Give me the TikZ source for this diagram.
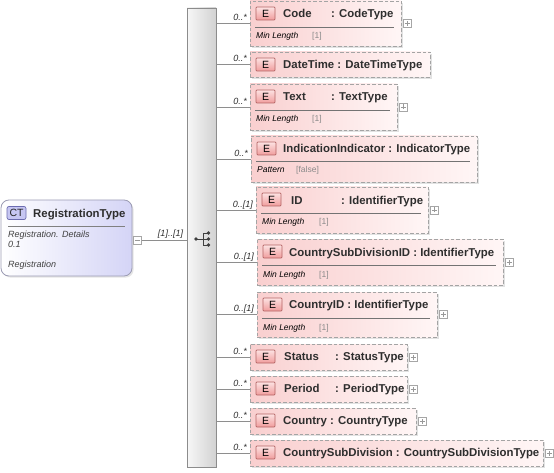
\documentclass[tikz,border=0pt]{standalone}
\usepackage{fontspec}
\setmainfont{Liberation Sans}
\usetikzlibrary{shadows,calc}
\definecolor{elL}{HTML}{F9CFCF}
\definecolor{elR}{HTML}{FFF6F6}
\definecolor{dashc}{HTML}{A4A4A4}
\definecolor{linec}{HTML}{8E8E8E}
\definecolor{txt}{HTML}{2E2E2E}
\definecolor{subg}{HTML}{8A8A8A}
\definecolor{badgeB}{HTML}{B46464}
\definecolor{badgeT}{HTML}{FDE2E2}
\definecolor{badgeD}{HTML}{F09C9C}
\definecolor{ctL}{HTML}{FFFFFF}
\definecolor{ctR}{HTML}{D4D4F6}
\definecolor{ctB}{HTML}{9C9CB4}
\definecolor{ctbadge}{HTML}{C6C6F2}
\definecolor{ctbadgeB}{HTML}{6C6CB0}
\definecolor{barL}{HTML}{F7F7F7}
\definecolor{barR}{HTML}{D2D2D2}
\definecolor{barB}{HTML}{8C8C8C}
\definecolor{icon}{HTML}{404040}

\newcommand\elem[6]{%
  \pgfmathsetmacro\elW{#4-#2}\pgfmathsetmacro\elH{#5-#3}%
  \pgfmathsetmacro\elX{(#2+#4)/2}\pgfmathsetmacro\elY{(#3+#5)/2}%
  \node[elboxs, minimum width=\elW pt, minimum height=\elH pt] (#1) at (\elX,\elY) {};
  \node[ebadge] (#1-e) at ({#2+15.5},{#3+12.5}) {E};
  \draw[conn] (bar.east |- #1.west) -- (#1.west);
  \node[mult, anchor=south east] (#1-m) at ([xshift=-2.5pt,yshift=2.5pt]#1.west) {#6};
}
\newcommand\plusb[1]{%
  \node[plusbox] (#1-p) at ([xshift=6pt]#1.east) {};
}
\newcommand\subrow[7]{% id, L, T, R, label, value, value x
  \draw[sepl] ({#2+5},{#3+26}) -- ({#4-7},{#3+26});
  \node[subt] (#1-sl) at ({#2+6},{#3+35}) {#5};
  \node[subv] (#1-sv) at (#7,{#3+35}) {#6};
}

\begin{document}
\begin{tikzpicture}[x=1pt,y=-1pt,
  elboxs/.style={draw=dashc, line width=0.9pt, dash pattern=on 3.5pt off 2pt,
    left color=elL, right color=elR, inner sep=0pt,
    drop shadow={shadow xshift=1.6pt, shadow yshift=-1.6pt, fill=black!25, opacity=0.45}},
  ebadge/.style={draw=badgeB, line width=0.7pt, top color=badgeT, bottom color=badgeD,
    minimum width=19pt, minimum height=13pt, inner sep=0pt, rounded corners=0.8pt,
    font=\fontsize{10.5}{12}\selectfont, text=black},
  conn/.style={draw=linec, line width=0.8pt},
  sepl/.style={draw=black!55, line width=0.7pt},
  nm/.style={anchor=west, inner sep=0pt, text height=8.2pt, text depth=0pt,
    font=\fontsize{11.4}{13}\selectfont\bfseries, text=txt},
  mult/.style={inner sep=0pt, text height=6.4pt, text depth=0pt,
    font=\fontsize{9}{10}\selectfont\itshape, text=txt},
  subt/.style={anchor=west, inner sep=0pt, text height=6pt, text depth=0pt,
    font=\fontsize{8.5}{10}\selectfont\itshape, text=black},
  subv/.style={anchor=west, inner sep=0pt, text height=6pt, text depth=0pt,
    font=\fontsize{8.5}{10}\selectfont, text=subg},
  ctt/.style={anchor=west, inner sep=0pt, text height=6.5pt, text depth=0pt,
    font=\fontsize{9}{11}\selectfont\itshape, text=black!75},
  plusbox/.style={draw=black!35, fill=white, line width=0.6pt, minimum size=8pt, inner sep=0pt,
    path picture={\draw[black!40, line width=0.6pt]
      ([xshift=-2.5pt]path picture bounding box.center) -- ([xshift=2.5pt]path picture bounding box.center)
      ([yshift=-2.5pt]path picture bounding box.center) -- ([yshift=2.5pt]path picture bounding box.center);}},
  minusbox/.style={draw=black!35, fill=white, line width=0.6pt, minimum size=8pt, inner sep=0pt,
    path picture={\draw[black!40, line width=0.6pt]
      ([xshift=-2.5pt]path picture bounding box.center) -- ([xshift=2.5pt]path picture bounding box.center);}}
]
\useasboundingbox (0,0) rectangle (554,473);

% sequence bar
\node[draw=barB, line width=0.8pt, left color=barL, right color=barR, minimum width=29pt,
  minimum height=459pt, inner sep=0pt] (bar) at (201.5,237.5) {};
% sequence icon
\coordinate (ic) at (203,239);
\draw[icon, line width=0.9pt] (196,239) -- (203,239) (203,233) -- (203,245)
  (203,233) -- (208.5,233) (203,239) -- (208.5,239) (203,245) -- (208.5,245);
\fill[icon] (196,239) circle (1.9) (208.5,233) circle (1.9) (208.5,239) circle (1.9) (208.5,245) circle (1.9);

% complex type box
\node[draw=ctB, line width=0.8pt, rounded corners=8pt, shading=axis, shading angle=135,
  left color=ctL, right color=ctR, minimum width=131pt, minimum height=76pt, inner sep=0pt,
  drop shadow={shadow xshift=1.6pt, shadow yshift=-1.6pt, fill=black!25, opacity=0.4}] (ct) at (66.5,238) {};
\node[draw=ctbadgeB, fill=ctbadge, line width=0.7pt, rounded corners=2pt, minimum width=19pt,
  minimum height=13pt, inner sep=0pt, font=\fontsize{10.5}{12}\selectfont, text=black!85] (ct-b) at (16.5,213) {CT};
\node[nm] (ct-n) at (33,213) {RegistrationType};
\draw[draw=black!50, line width=0.7pt] (8,226) -- (125,226);
\node[ctt] (ct-d1) at (8,234) {Registration. Details};
\node[ctt] (ct-d2) at (8,244) {0.1};
\node[ctt] (ct-d3) at (8,264) {Registration};
\node[minusbox] (ct-m) at (137.5,240) {};
\draw[conn] (ct-m.east) -- (bar.west |- ct-m.east);
\node[mult, anchor=south] (ct-mult) at (170.5,237) {[1]..[1]};

% elements
\elem{code}{250}{1}{401}{46}{0..*}
\node[nm] (code-n) at (283,13.5) {Code};
\node[nm] (code-t) at (331,13.5) {: CodeType};
\subrow{code}{250}{1}{401}{Min Length}{[1]}{312}
\plusb{code}

\elem{dt}{250}{52}{430}{77}{0..*}
\node[nm] (dt-n) at (283,64.5) {DateTime : DateTimeType};

\elem{text}{250}{84}{397}{130}{0..*}
\node[nm] (text-n) at (283,96.5) {Text};
\node[nm] (text-t) at (331,96.5) {: TextType};
\subrow{text}{250}{84}{397}{Min Length}{[1]}{312}
\plusb{text}

\elem{ind}{251}{136}{477}{182}{0..*}
\node[nm] (ind-n) at (283,148) {IndicationIndicator : IndicatorType};
\subrow{ind}{251}{135}{477}{Pattern}{[false]}{296}

\elem{id}{256}{187}{428}{233}{0..[1]}
\node[nm] (id-n) at (291,200) {ID};
\node[nm] (id-t) at (341,200) {: IdentifierType};
\subrow{id}{256}{187}{428}{Min Length}{[1]}{319}
\plusb{id}

\elem{csdid}{257}{239}{503}{285}{0..[1]}
\node[nm] (csdid-n) at (289,252) {CountrySubDivisionID : IdentifierType};
\subrow{csdid}{257}{239}{503}{Min Length}{[1]}{319}
\plusb{csdid}

\elem{cid}{257}{292}{437}{337}{0..[1]}
\node[nm] (cid-n) at (289,304) {CountryID : IdentifierType};
\subrow{cid}{257}{292}{437}{Min Length}{[1]}{319}
\plusb{cid}

\elem{status}{250}{344}{407}{370}{0..*}
\node[nm] (status-n) at (284,356) {Status};
\node[nm] (status-t) at (335,356) {: StatusType};
\plusb{status}

\elem{period}{250}{376}{407}{402}{0..*}
\node[nm] (period-n) at (284,388) {Period};
\node[nm] (period-t) at (335,388) {: PeriodType};
\plusb{period}

\elem{country}{250}{408}{416}{434}{0..*}
\node[nm] (country-n) at (283,420) {Country};
\node[nm] (country-t) at (330,420) {: CountryType};
\plusb{country}

\elem{csd}{250}{440}{543}{466}{0..*}
\node[nm] (csd-n) at (283,452) {CountrySubDivision : CountrySubDivisionType};
\plusb{csd}
\end{tikzpicture}
\end{document}
